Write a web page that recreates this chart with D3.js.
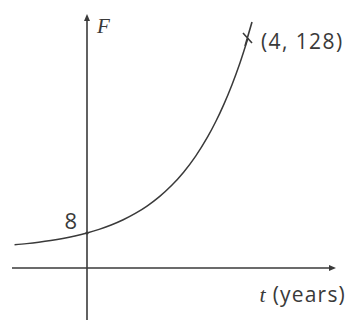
<!DOCTYPE html>
<html>
<head>
<meta charset="utf-8">
<script src="https://cdn.jsdelivr.net/npm/d3@7"></script>
<style>
  html, body { margin: 0; padding: 0; background: #fff; }
  svg { display: block; }
</style>
</head>
<body>
<svg id="chart" width="347" height="320"></svg>
<script>
// Growth model F = 8 * 2^t, sampled along t
const initialValue = 8;
const growthBase = 2;
const tSamples = [-1.8, -1.5, -1.2, -0.9, -0.6, -0.3, 0, 0.3, 0.6, 0.9, 1.2, 1.5, 1.8,
                  2.1, 2.4, 2.7, 3.0, 3.2, 3.4, 3.6, 3.8, 4.0];
const markedPoint = [4, 128];
const markedLabel = "(4, 128)";
const interceptLabel = "8";
const xAxisLabel = "(years)";
const xAxisVar = "t";
const yAxisVar = "F";

const svg = d3.select("#chart");
const ink = "#3a3a3a";

const x = d3.scaleLinear().domain([0, 4]).range([87, 248]);
const y = d3.scalePow().exponent(0.9).domain([0, 128]).range([250.5, 38]);

const axisY = 268;     // horizontal axis line
const axisX = x(0);    // vertical axis line

// Axes with small arrowheads
const g = svg.append("g");
g.append("line")
  .attr("x1", 12).attr("x2", 332).attr("y1", axisY).attr("y2", axisY)
  .attr("stroke", ink).attr("stroke-width", 1.6);
g.append("path")
  .attr("d", `M${336},${axisY} L${329},${axisY - 3} L${329},${axisY + 3} Z`)
  .attr("fill", ink);

g.append("line")
  .attr("x1", axisX).attr("x2", axisX).attr("y1", 320).attr("y2", 19)
  .attr("stroke", ink).attr("stroke-width", 1.6);
g.append("path")
  .attr("d", `M${axisX},${14} L${axisX - 3},${21} L${axisX + 3},${21} Z`)
  .attr("fill", ink);

// Curve
const curveData = tSamples.map(t => [t, initialValue * Math.pow(growthBase, t)]);
const line = d3.line()
  .x(d => x(d[0]))
  .y(d => y(d[1]))
  .curve(d3.curveCatmullRom);
g.append("path")
  .datum(curveData)
  .attr("d", line)
  .attr("fill", "none")
  .attr("stroke", ink)
  .attr("stroke-width", 1.5);

// Small dot at the intercept
g.append("circle")
  .attr("cx", x(0)).attr("cy", y(initialValue)).attr("r", 1.6)
  .attr("fill", ink);

// Cross at the marked point
const px = x(markedPoint[0]), py = y(markedPoint[1]);
g.append("path")
  .attr("transform", `translate(${px},${py})`)
  .attr("d", "M-3,8 L4,-16 M-5,-5 L4,5")
  .attr("fill", "none")
  .attr("stroke", ink)
  .attr("stroke-width", 1.6);

// Labels
const sans = "'Open Sans', 'Liberation Sans', sans-serif";
const serif = "'Liberation Serif', 'DejaVu Serif', serif";

g.append("text")
  .attr("x", px + 13).attr("y", py + 11)
  .attr("font-family", sans).attr("font-size", 21)
  .attr("letter-spacing", 1.4)
  .attr("fill", ink)
  .text(markedLabel);

g.append("text")
  .attr("x", axisX - 10).attr("y", y(initialValue) - 4)
  .attr("text-anchor", "end")
  .attr("font-family", sans).attr("font-size", 22)
  .attr("fill", ink)
  .text(interceptLabel);

g.append("text")
  .attr("x", axisX + 10).attr("y", 33)
  .attr("font-family", serif).attr("font-style", "italic").attr("font-size", 21)
  .attr("fill", ink)
  .text(yAxisVar);

const xl = g.append("text")
  .attr("x", 346).attr("y", 302)
  .attr("text-anchor", "end")
  .attr("fill", ink);
xl.append("tspan")
  .attr("font-family", serif).attr("font-style", "italic").attr("font-size", 22)
  .text(xAxisVar);
xl.append("tspan")
  .attr("font-family", sans).attr("font-size", 21)
  .attr("letter-spacing", 1.2)
  .attr("dx", 7)
  .text(xAxisLabel);
</script>
</body>
</html>
